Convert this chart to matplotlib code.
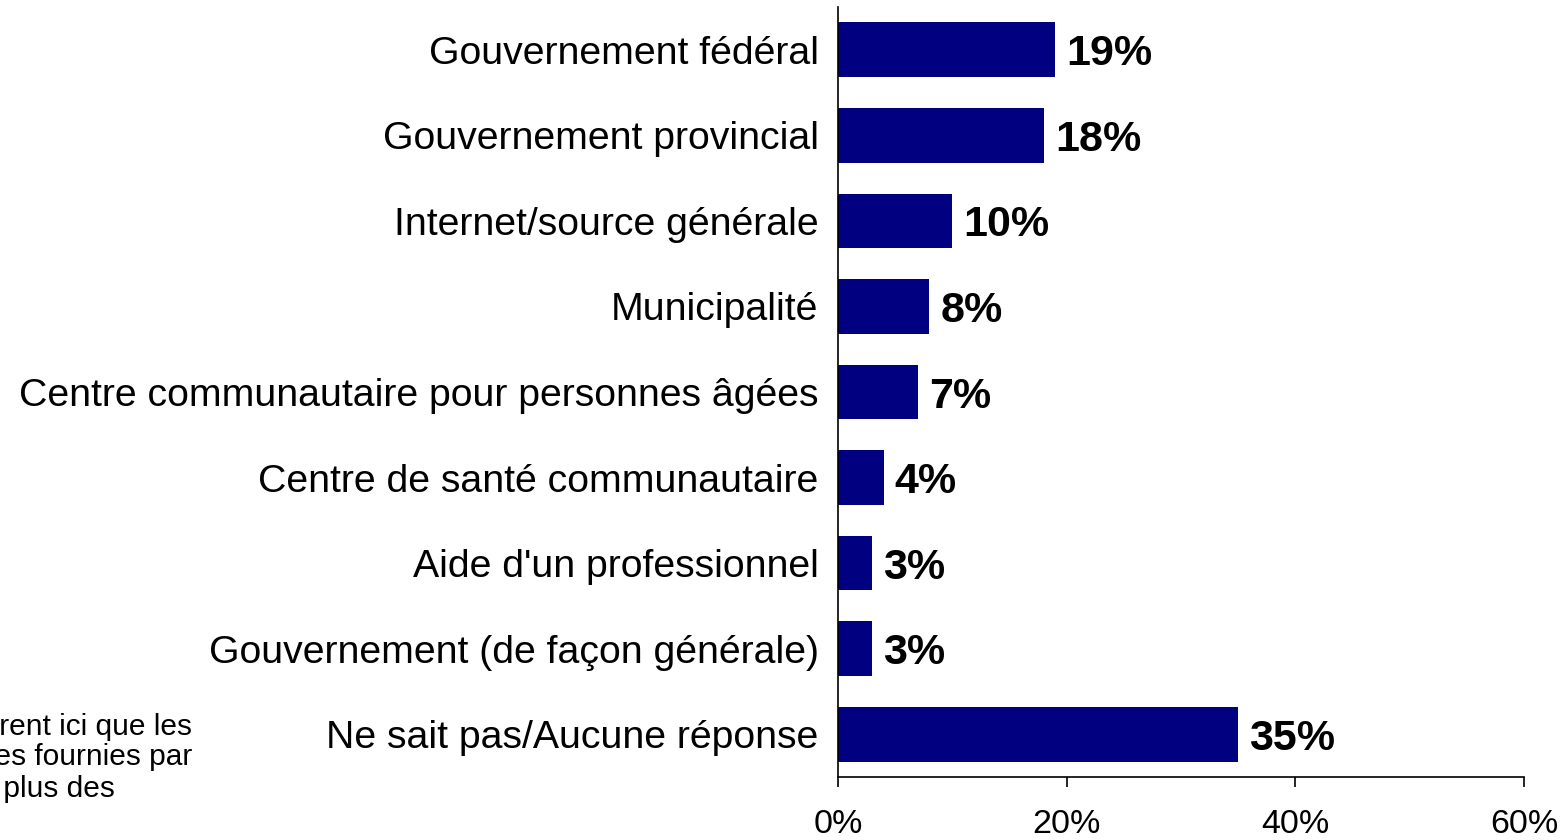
import matplotlib
matplotlib.use("Agg")
import matplotlib.pyplot as plt
from matplotlib.ticker import PercentFormatter

# Données
categories = [
    "Gouvernement fédéral",
    "Gouvernement provincial",
    "Internet/source générale",
    "Municipalité",
    "Centre communautaire pour personnes âgées",
    "Centre de santé communautaire",
    "Aide d'un professionnel",
    "Gouvernement (de façon générale)",
    "Ne sait pas/Aucune réponse",
]
valeurs = [19, 18, 10, 8, 7, 4, 3, 3, 35]
graduations = [0, 20, 40, 60]
note = [
    "Remarque : Ne figurent ici que les",
    "réponses fournies par",
    "5 % ou plus des",
]

POLICE = ["Liberation Sans", "DejaVu Sans"]
BLEU = "#000080"

fig = plt.figure(figsize=(15.61, 8.4), dpi=100)
ax = fig.add_axes([838 / 1561, 1 - 777 / 840, (1524 - 838) / 1561, 770 / 840])

pos = list(range(len(categories)))
barres = ax.barh(pos, valeurs, height=0.64, color=BLEU)
ax.set_ylim(len(categories) - 0.5, -0.5)
ax.set_xlim(0, 60)

ax.set_yticks(pos)
ax.set_yticklabels(categories, family=POLICE, fontsize=28.3)
ax.tick_params(axis="y", length=0, pad=14)

ax.set_xticks(graduations)
ax.xaxis.set_major_formatter(PercentFormatter(decimals=0))
for lab in ax.get_xticklabels():
    lab.set_family(POLICE)
    lab.set_fontsize(24.5)
ax.tick_params(axis="x", direction="out", length=7, width=1.2, pad=16)

for cote in ["top", "right"]:
    ax.spines[cote].set_visible(False)
for cote in ["left", "bottom"]:
    ax.spines[cote].set_linewidth(1.2)
    ax.spines[cote].set_color("black")

etiquettes = ax.bar_label(barres, labels=["{}%".format(v) for v in valeurs],
                          padding=8, fontsize=31, fontweight="bold")
for t in etiquettes:
    t.set_family(POLICE)
    t.set_va("center_baseline")

# note en bas à gauche, en partie hors du cadre
fins = [192, 192, 115]
bases = [735, 765, 797]
for texte, fin, base in zip(note, fins, bases):
    fig.text(fin / 1561, 1 - base / 840, texte, ha="right", va="baseline",
             fontsize=21.5, family=POLICE)

fig.savefig("out.png", dpi=100)
